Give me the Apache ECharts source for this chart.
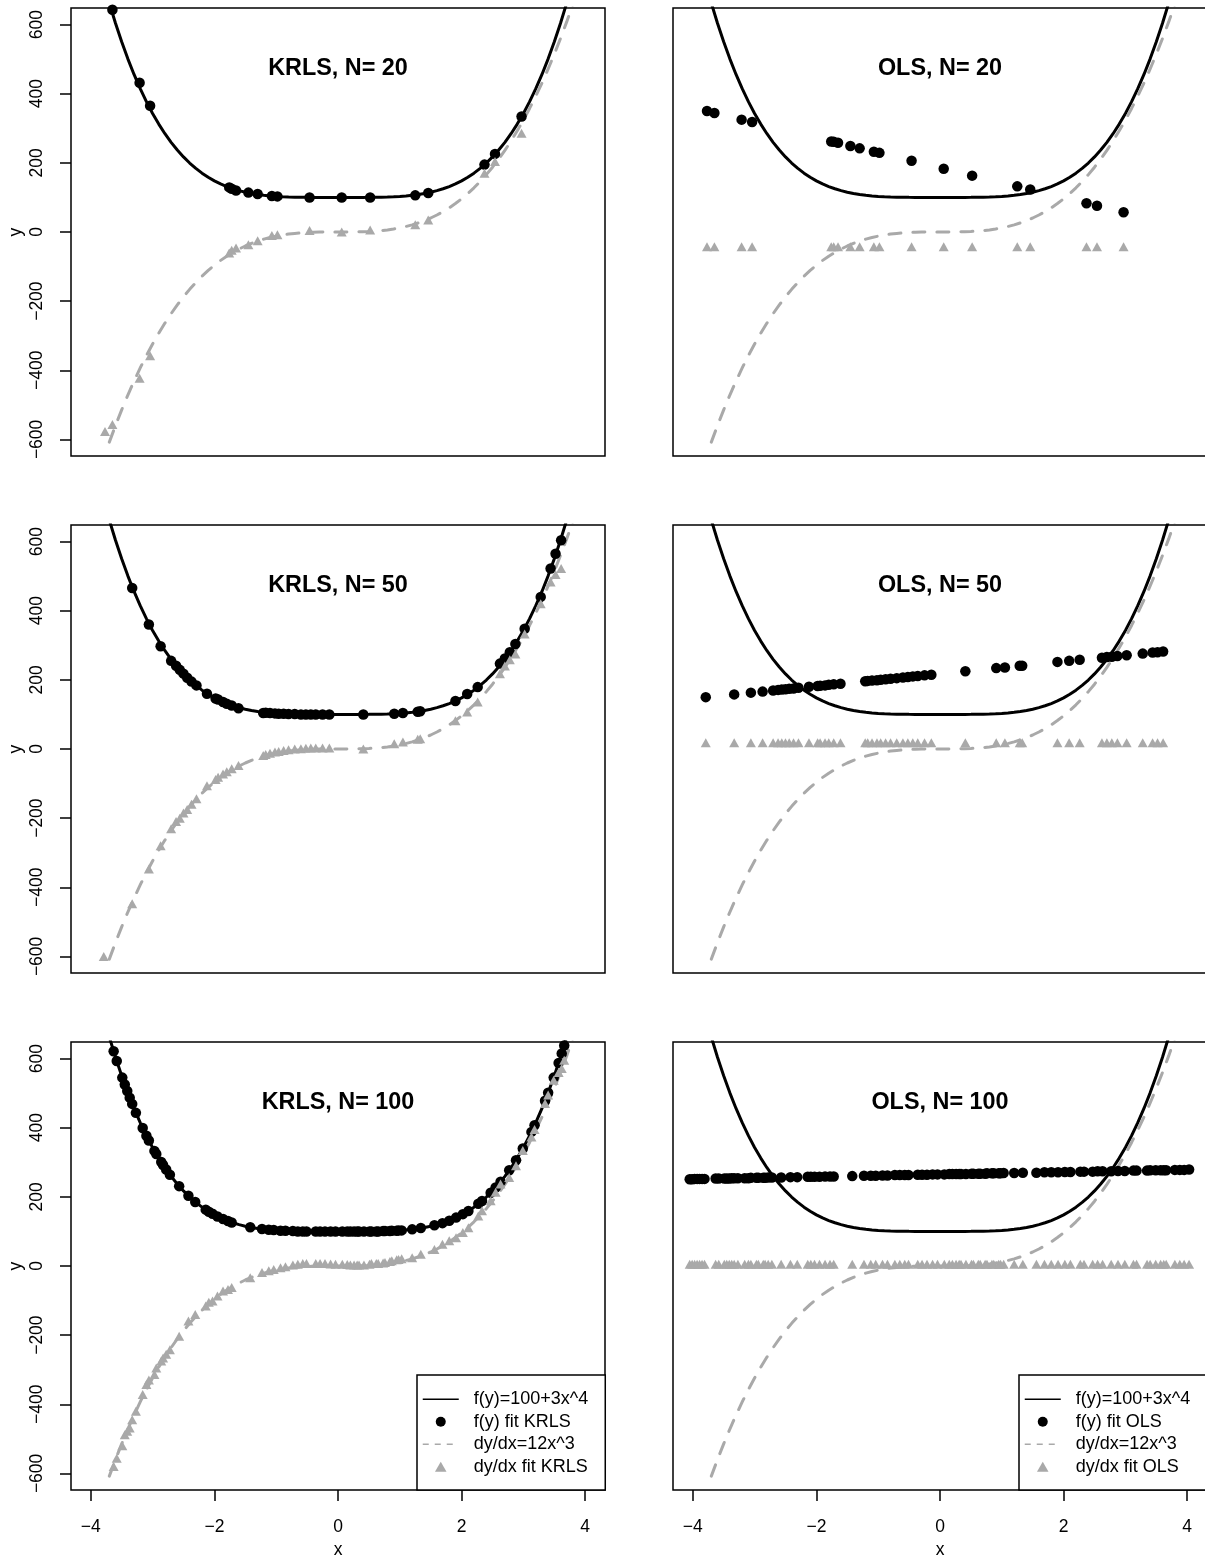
<!DOCTYPE html>
<html><head><meta charset="utf-8">
<script src="https://cdn.jsdelivr.net/npm/echarts@6/dist/echarts.min.js"></script>
<style>html,body{margin:0;padding:0;background:#fff}#c{width:1205px;height:1556px}</style>
</head><body><div id="c"></div>
<script>
// ---------------- data ----------------
const xTicks = [-4, -2, 0, 2, 4];
const yTicks = [-600, -400, -200, 0, 200, 400, 600];
const panelTitles = ['KRLS, N= 20', 'OLS, N= 20', 'KRLS, N= 50', 'OLS, N= 50', 'KRLS, N= 100', 'OLS, N= 100'];
const nameTrueF = 'f(y)=100+3x^4';
const nameTrueD = 'dy/dx=12x^3';
const namesKRLS = ['f(y) fit KRLS', 'dy/dx fit KRLS'];
const namesOLS = ['f(y) fit OLS', 'dy/dx fit OLS'];

// true curves
const curveX = [-3.7,-3.6,-3.5,-3.4,-3.3,-3.2,-3.1,-3.0,-2.9,-2.8,-2.7,-2.6,-2.5,-2.4,-2.3,-2.2,-2.1,-2.0,-1.9,-1.8,-1.7,-1.6,-1.5,-1.4,-1.3,-1.2,-1.1,-1.0,-0.9,-0.8,-0.7,-0.6,-0.5,-0.4,-0.3,-0.2,-0.1,0,0.1,0.2,0.3,0.4,0.5,0.6,0.7,0.8,0.9,1.0,1.1,1.2,1.3,1.4,1.5,1.6,1.7,1.8,1.9,2.0,2.1,2.2,2.3,2.4,2.5,2.6,2.7,2.8,2.9,3.0,3.1,3.2,3.3,3.4,3.5,3.6,3.7,3.8];
const curveF = [662.3,603.9,550.2,500.9,455.8,414.6,377.1,343.0,312.2,284.4,259.4,237.1,217.2,199.5,184.0,170.3,158.3,148.0,139.1,131.5,125.1,119.7,115.2,111.5,108.6,106.2,104.4,103.0,102.0,101.2,100.7,100.4,100.2,100.1,100.0,100.0,100.0,100.0,100.0,100.0,100.0,100.1,100.2,100.4,100.7,101.2,102.0,103.0,104.4,106.2,108.6,111.5,115.2,119.7,125.1,131.5,139.1,148.0,158.3,170.3,184.0,199.5,217.2,237.1,259.4,284.4,312.2,343.0,377.1,414.6,455.8,500.9,550.2,603.9,662.3,725.5];
const curveD = [-607.8,-559.9,-514.5,-471.6,-431.2,-393.2,-357.5,-324.0,-292.7,-263.4,-236.2,-210.9,-187.5,-165.9,-146.0,-127.8,-111.1,-96.0,-82.3,-70.0,-59.0,-49.2,-40.5,-32.9,-26.4,-20.7,-16.0,-12.0,-8.7,-6.1,-4.1,-2.6,-1.5,-0.8,-0.3,-0.1,0.0,0.0,0.0,0.1,0.3,0.8,1.5,2.6,4.1,6.1,8.7,12.0,16.0,20.7,26.4,32.9,40.5,49.2,59.0,70.0,82.3,96.0,111.1,127.8,146.0,165.9,187.5,210.9,236.2,263.4,292.7,324.0,357.5,393.2,431.2,471.6,514.5,559.9,607.8,658.5];

// N = 20
const x20 = [-3.77,-3.65,-3.21,-3.04,-1.76,-1.72,-1.65,-1.45,-1.30,-1.07,-0.98,-0.46,0.06,0.52,1.25,1.46,2.37,2.54,2.97];
const krlsFit20 = [null,643,432,365,129,125,120,114,110,104,103,100,100,100,106,113,195,226,334];
const krlsDeriv20 = [-577,-557,-423,-358,-61,-53,-46,-37,-25,-10,-8,4,0,6,21,35,170,204,286];
const olsFit20 = [350,344,325,318,262,261,258,249,242,232,229,206,183,163,132,123,83,76,57];
const olsDeriv20 = -43;

// N = 50
const x50 = [-3.79,-3.33,-3.06,-2.87,-2.70,-2.62,-2.56,-2.50,-2.44,-2.37,-2.29,-2.12,-1.98,-1.94,-1.86,-1.80,-1.72,-1.61,-1.21,-1.17,-1.10,-1.02,-0.96,-0.88,-0.80,-0.70,-0.60,-0.52,-0.44,-0.36,-0.25,-0.14,0.41,0.91,1.05,1.29,1.33,1.90,2.09,2.26,2.62,2.70,2.78,2.87,3.02,3.28,3.44,3.52,3.61];
const krlsFit50 = [null,466,360,297,255,241,229,218,206,195,184,160,146,143,136,131,126,118,104,105,104,103,102,102,101,101,100,100,100,100,100,100,100,102,104,108,109,139,159,179,247,262,280,304,348,440,522,565,604];
const krlsDeriv50 = [-600,-448,-347,-280,-231,-210,-200,-185,-175,-160,-144,-106,-88,-82,-72,-66,-57,-48,-19,-16,-12,-9,-7,-4,-2,0,1,2,3,3,3,3,0,15,20,28,30,82,107,136,218,240,258,275,333,420,483,505,522];
const olsFit50 = [150,158,163,166,169,171,172,173,174,175,177,180,182,183,184,186,187,189,196,197,198,199,200,202,203,205,207,208,210,211,213,215,225,234,236,241,241,252,255,258,264,266,267,269,271,276,279,280,282];
const olsDeriv50 = 18;

// N = 100
const x100 = [-4.05,-4.01,-3.97,-3.93,-3.89,-3.85,-3.81,-3.63,-3.58,-3.49,-3.45,-3.41,-3.37,-3.33,-3.27,-3.16,-3.10,-3.06,-2.97,-2.94,-2.86,-2.83,-2.78,-2.72,-2.57,-2.42,-2.31,-2.14,-2.09,-2.03,-1.95,-1.86,-1.78,-1.72,-1.42,-1.23,-1.12,-1.04,-0.93,-0.85,-0.73,-0.65,-0.57,-0.51,-0.36,-0.29,-0.21,-0.12,-0.04,0.07,0.15,0.20,0.26,0.31,0.34,0.42,0.51,0.54,0.62,0.65,0.73,0.76,0.84,0.87,0.95,0.98,1.03,1.20,1.34,1.56,1.69,1.80,1.91,2.02,2.11,2.27,2.33,2.47,2.55,2.63,2.77,2.88,2.99,3.13,3.18,3.35,3.40,3.49,3.57,3.62,3.66,3.80,3.88,3.95,4.03];
const krlsFit100 = [null,null,null,null,null,null,null,621,593,545,525,506,487,469,443,399,377,363,333,324,301,292,279,264,231,203,185,163,157,151,143,136,130,126,112,107,105,104,102,102,101,100,100,100,100,100,100,100,100,100,100,100,100,100,100,100,100,100,100,100,101,101,101,102,102,103,103,106,110,118,124,131,140,150,159,180,188,212,227,244,277,306,340,388,407,478,501,545,587,615,638,null,null,null,null];
const krlsDeriv100 = [null,null,null,null,null,null,null,-580,-556,-520,-488,-478,-469,-445,-420,-372,-343,-330,-314,-295,-275,-266,-255,-242,-203,-159,-140,-116,-105,-101,-87,-72,-68,-62,-34,-19,-14,-10,-5,-2,3,5,7,7,7,7,7,6,5,5,4,3,3,3,3,3,5,7,7,7,9,10,13,15,18,19,21,24,34,48,63,73,82,97,111,145,160,189,213,237,256,290,334,373,395,470,495,537,560,571,595,null,null,null,null];
const olsFit100 = [251,251,252,252,252,252,252,253,253,253,253,253,254,254,254,254,254,255,255,255,255,255,256,256,256,257,257,258,258,258,258,259,259,259,260,261,261,261,262,262,263,263,263,263,264,264,264,265,265,265,266,266,266,266,266,266,267,267,267,267,267,268,268,268,268,268,269,269,270,270,271,271,271,272,272,273,273,273,274,274,274,275,275,276,276,276,277,277,277,277,277,278,278,278,279];
const olsDeriv100 = 5;

// ---------------- chart ----------------
const BLACK = '#000000', GRAY = '#A9A9A9';
const FONT = "'Liberation Sans', Arial, Helvetica, sans-serif";
const pairs = (xs, ys) => xs.map((x, i) => [x, Array.isArray(ys) ? ys[i] : ys]).filter(p => p[1] != null);
const fmt = v => (v < 0 ? '\u2212' + Math.abs(v) : String(v));

const rows = [
  { x: x20, kf: krlsFit20, kd: krlsDeriv20, of: olsFit20, od: olsDeriv20 },
  { x: x50, kf: krlsFit50, kd: krlsDeriv50, of: olsFit50, od: olsDeriv50 },
  { x: x100, kf: krlsFit100, kd: krlsDeriv100, of: olsFit100, od: olsDeriv100 }
];
const rowTops = [8, 525, 1042];
const colLefts = [71, 673];
const W = 534, H = 448;
const TICKFONT = 17.5;

const grid = [], xAxis = [], yAxis = [], series = [], title = [];
rows.forEach((row, r) => {
  [0, 1].forEach(c => {
    const p = r * 2 + c;
    grid.push({ left: colLefts[c], top: rowTops[r], width: W, height: H, show: true,
      outerBoundsMode: 'none', containLabel: false,
      borderColor: BLACK, borderWidth: 1.5, backgroundColor: 'transparent' });
    const bottom = r === 2;
    xAxis.push({ type: 'value', gridIndex: p, min: -4.32, max: 4.32, show: true, position: 'bottom',
      axisLine: { show: false, onZero: false }, splitLine: { show: false },
      axisTick: { show: bottom, customValues: xTicks, length: 11, inside: false, lineStyle: { color: BLACK, width: 1.5 } },
      axisLabel: { show: bottom, customValues: xTicks, formatter: fmt, margin: 28, fontSize: TICKFONT, color: BLACK, fontFamily: FONT },
      name: bottom ? 'x' : '', nameLocation: 'middle', nameGap: 51,
      nameTextStyle: { fontSize: TICKFONT, color: BLACK, fontFamily: FONT } });
    const left = c === 0;
    yAxis.push({ type: 'value', gridIndex: p, min: -648, max: 648, show: true, position: 'left',
      axisLine: { show: false, onZero: false }, splitLine: { show: false },
      axisTick: { show: left, customValues: yTicks, length: 11, inside: false, lineStyle: { color: BLACK, width: 1.5 } },
      axisLabel: { show: left, customValues: yTicks, formatter: fmt, rotate: 90, margin: 25, fontSize: TICKFONT, color: BLACK, fontFamily: FONT },
      name: left ? 'y' : '', nameLocation: 'middle', nameGap: 46, nameRotate: 90,
      nameTextStyle: { fontSize: TICKFONT, color: BLACK, fontFamily: FONT } });

    const names = c === 0 ? namesKRLS : namesOLS;
    const fit = c === 0 ? row.kf : row.of;
    const der = c === 0 ? row.kd : row.od;
    series.push({ type: 'line', name: nameTrueF, xAxisIndex: p, yAxisIndex: p, data: pairs(curveX, curveF),
      symbol: 'none', showSymbol: false, smooth: false, clip: true, silent: true,
      lineStyle: { color: BLACK, width: 3 }, itemStyle: { color: BLACK }, z: 2 });
    series.push({ type: 'line', name: nameTrueD, xAxisIndex: p, yAxisIndex: p, data: pairs(curveX, curveD),
      symbol: 'none', showSymbol: false, smooth: false, clip: true, silent: true,
      lineStyle: { color: GRAY, width: 3, type: [12, 12], cap: 'round' }, itemStyle: { color: GRAY }, z: 2 });
    series.push({ type: 'scatter', name: names[0], xAxisIndex: p, yAxisIndex: p, data: pairs(row.x, fit),
      symbol: 'circle', symbolSize: 10.5, clip: true, itemStyle: { color: BLACK, opacity: 1 }, z: 3 });
    series.push({ type: 'scatter', name: names[1], xAxisIndex: p, yAxisIndex: p, data: pairs(row.x, der),
      symbol: 'triangle', symbolSize: [10, 9], clip: true, itemStyle: { color: GRAY, opacity: 1 }, z: 3 });

    title.push({ text: panelTitles[p], left: colLefts[c] + W / 2, top: rowTops[r] + 60.5,
      textAlign: 'center', textVerticalAlign: 'middle', padding: 0,
      textStyle: { fontSize: 23.4, fontWeight: 'bold', color: BLACK, fontFamily: FONT } });
  });
});

const legendCommon = {
  orient: 'vertical', top: 1375, itemWidth: 36, itemHeight: 10, itemGap: 0,
  padding: [13, 17, 12, 5], borderColor: BLACK, borderWidth: 1.5, borderRadius: 0,
  backgroundColor: '#ffffff', selectedMode: false, z: 10,
  textStyle: { fontSize: 18, color: BLACK, fontFamily: FONT, lineHeight: 22.5, padding: [0, 0, 0, 10] }
};
const noSymbol = { color: 'rgba(0,0,0,0)', borderWidth: 0, borderColor: 'rgba(0,0,0,0)' };
const legendItems = names => [
  { name: nameTrueF, lineStyle: { width: 1.5, type: 'solid' }, itemStyle: noSymbol },
  { name: names[0], icon: 'circle' },
  { name: nameTrueD, lineStyle: { width: 1.5, type: [6, 6], cap: 'butt' }, itemStyle: noSymbol },
  { name: names[1], icon: 'path://M5,0L10,8.66L0,8.66Z' }
];

const chart = echarts.init(document.getElementById('c'), null, { renderer: 'canvas' });
chart.setOption({
  animation: false,
  backgroundColor: '#ffffff',
  title,
  grid, xAxis, yAxis, series,
  legend: [
    Object.assign({}, legendCommon, { left: 417, data: legendItems(namesKRLS) }),
    Object.assign({}, legendCommon, { left: 1019, data: legendItems(namesOLS) })
  ]
});
</script></body></html>
